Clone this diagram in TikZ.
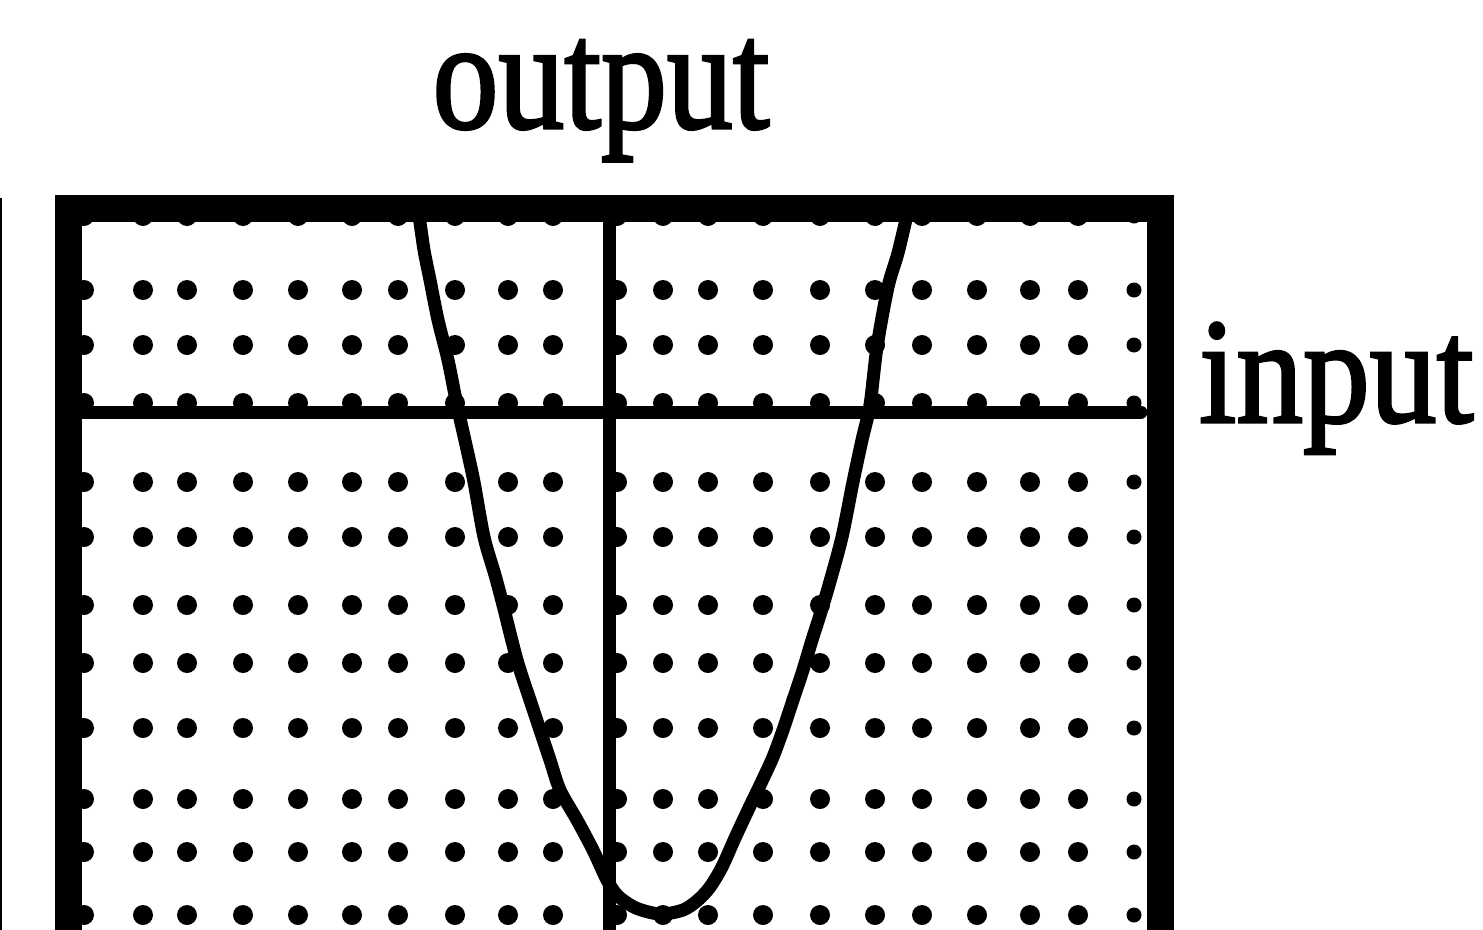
\documentclass[tikz,border=0pt]{standalone}
\usepackage{fontspec}
\setmainfont{Liberation Serif}
\newfontfamily\lblfont{Liberation Serif}[FakeBold=2]
\tikzset{
  frameline/.style={line width=27pt, line join=miter},
  axisline/.style={line width=13pt},
  curveline/.style={line width=13pt, line cap=round, line join=round},
  thinline/.style={line width=2.5pt},
  griddot/.style={fill=black},
  bigtext/.style={inner sep=0pt, font=\lblfont\fontsize{156}{160}\selectfont},
  midtext/.style={inner sep=0pt, font=\lblfont\fontsize{150}{155}\selectfont}
}
\begin{document}
\begin{tikzpicture}[x=1pt,y=-1pt]
\useasboundingbox (0,0) rectangle (1483,929);
\clip (0,0) rectangle (1483,929);
\fill[white] (0,0) rectangle (1483,929);

% grid of dots
\foreach \yy in {216,290,345,403,482,537,605,663,728,799,852,915}{
  \foreach \xx in {84,143,187,243,298,352,398,455,508,553,617,663,708,763,820,875,922,977,1030,1078}{
    \fill[griddot] (\xx,\yy) circle[radius=10];
  }
  \fill[griddot] (1134,\yy) circle[radius=7.5];
}

% left thin line
\coordinate (lt) at (1,198);
\coordinate (lb) at (1,940);
\draw[thinline] (lt) -- (lb);

% frame
\coordinate (fbl) at (68.5,945);
\coordinate (ftl) at (68.5,208.5);
\coordinate (ftr) at (1160,208.5);
\coordinate (fbr) at (1160,945);
\draw[frameline] (fbl) -- (ftl) -- (ftr) -- (fbr);

% axes
\coordinate (hl) at (75,412);
\coordinate (hr) at (1141,412);
\draw[axisline, line cap=round] (hl) -- (hr);
\coordinate (vt) at (609,215);
\coordinate (vb) at (609,945);
\draw[axisline] (vt) -- (vb);

% parabola
\draw[curveline] plot[smooth, tension=0.5] coordinates {
 (419,215) (424,250) (430,280) (438,320) (448,360) (457,405) (466,445)
 (474,482) (484,537) (495,575) (503,605) (517,660) (530,700) (540,730)
 (550,760) (560,790) (577,820) (593,850) (607,880) (618,896) (636,908)
 (660,914) (683,910) (698,900) (710,887) (722,867) (735,838) (749,808)
 (762,781) (773,757) (783,730) (793,700) (803,670) (812,640) (820,615)
 (829,585) (842,537) (853,482) (862,440) (870,405) (877,347) (888,287)
 (898,253) (907,215)};

% labels
\node[bigtext, anchor=base, xscale=0.845] (out) at (601,128) {output};
\node[midtext, anchor=base west, xscale=0.89] (inp) at (1199,422) {input};
\end{tikzpicture}
\end{document}
